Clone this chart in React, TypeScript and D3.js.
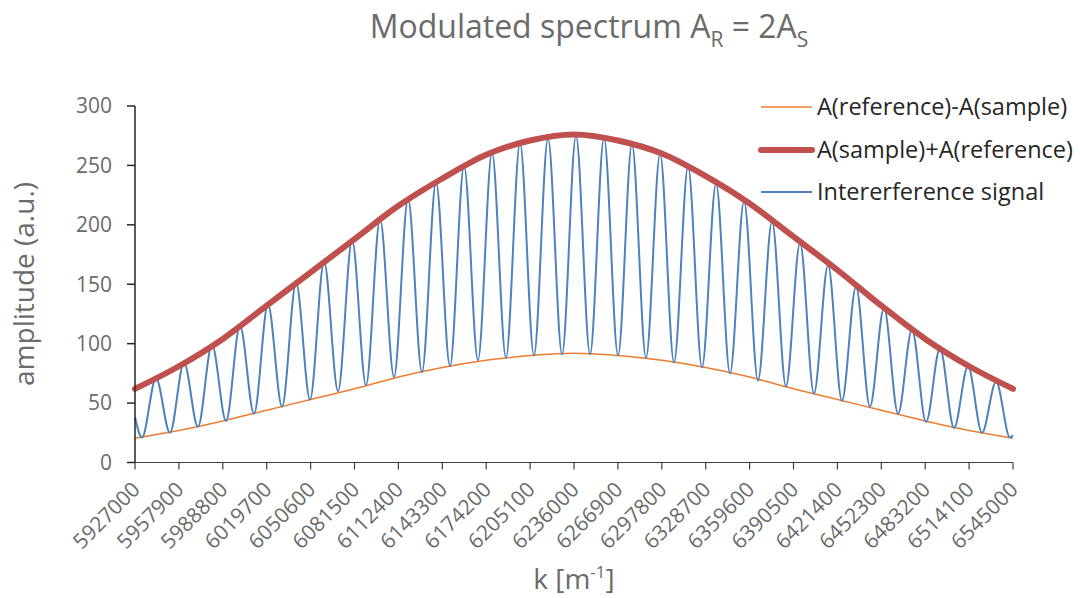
import React from 'react';
import * as d3 from 'd3';

// x axis category ticks (k in 1/m)
const kTicks = [
  5927000, 5957900, 5988800, 6019700, 6050600, 6081500, 6112400, 6143300, 6174200, 6205100, 6236000,
  6266900, 6297800, 6328700, 6359600, 6390500, 6421400, 6452300, 6483200, 6514100, 6545000,
];

// envelopes read at each tick
const sumEnvelope = [62, 81, 104, 132, 160, 188, 216, 239, 259, 271, 276, 271, 260, 241, 218, 190, 162, 132, 104, 81, 62];
const diffEnvelope = [20.5, 27, 35, 44, 53, 62, 72, 80, 86, 90, 92, 90, 86, 80, 72, 62, 53, 44, 35, 27, 20.5];

// interference signal: start, then alternating trough / peak, then end
const signalK = [
  5927000, 5931900, 5941800, 5951600, 5961500, 5971300, 5981200, 5991100, 6000900, 6010800, 6020600,
  6030500, 6040400, 6050200, 6060100, 6069900, 6079800, 6089600, 6099500, 6109300, 6119200, 6129000,
  6138900, 6148700, 6158600, 6168400, 6178300, 6188100, 6198000, 6207800, 6217700, 6227600, 6237400,
  6247300, 6257100, 6267000, 6276800, 6286700, 6296600, 6306400, 6316300, 6326100, 6336000, 6345800,
  6355700, 6365500, 6375400, 6385200, 6395100, 6404900, 6414800, 6424600, 6434500, 6444300, 6454200,
  6464100, 6473900, 6483800, 6493600, 6503500, 6513300, 6523200, 6533100, 6542900, 6545000,
];
const signalA = [
  38, 21, 71, 25, 84, 30, 99, 35, 115, 41, 133,
  47, 151, 53, 169, 60, 187, 65, 205, 72, 222, 76,
  236, 81, 250, 86, 261, 88, 269, 90, 273, 91, 275,
  91, 273, 90, 268, 88, 260, 84, 249, 80, 235, 75,
  220, 69, 203, 64, 185, 58, 166, 52, 148, 47, 130,
  41, 112, 34, 96, 29, 81, 25, 68, 21, 23,
];

const yTicks = [0, 50, 100, 150, 200, 250, 300];

const series = [
  { name: 'A(reference)-A(sample)', color: '#ED7D31', width: 1.5 },
  { name: 'A(sample)+A(reference)', color: '#C0504D', width: 6 },
  { name: 'Intererference signal', color: '#4F81BD', width: 2 },
];

const W = 1080;
const H = 598;
const left = 135;
const right = 1013;
const top = 106;
const bottom = 462.5;
const font = '"Open Sans", sans-serif';
const grey = '#6b6b6b';

export default function App() {
  const x = d3.scaleLinear().domain([kTicks[0], kTicks[kTicks.length - 1]]).range([left, right]);
  const y = d3.scaleLinear().domain([0, 300]).range([bottom, top]);

  const line = d3
    .line<[number, number]>()
    .x((d) => x(d[0]))
    .y((d) => y(d[1]))
    .curve(d3.curveMonotoneX);

  const diffPath = line(kTicks.map((k, i) => [k, diffEnvelope[i]]));
  const sumPath = line(kTicks.map((k, i) => [k, sumEnvelope[i]]));
  const signalPath = line(signalK.map((k, i) => [k, signalA[i]]));

  return (
    <svg width={W} height={H} style={{ position: 'absolute', left: 0, top: 0, background: '#fff' }} fontFamily={font}>
      {/* title */}
      <text x={589} y={38} textAnchor="middle" fontSize={32} fill={grey}>
        Modulated spectrum A<tspan fontSize={21} dy={9}>R</tspan>
        <tspan dy={-9}> = 2A</tspan>
        <tspan fontSize={21} dy={9}>S</tspan>
      </text>

      {/* series */}
      <path d={diffPath ?? ''} fill="none" stroke={series[0].color} strokeWidth={series[0].width} />
      <path d={signalPath ?? ''} fill="none" stroke={series[2].color} strokeWidth={series[2].width} />
      <path d={sumPath ?? ''} fill="none" stroke={series[1].color} strokeWidth={series[1].width} strokeLinecap="round" />

      {/* y axis */}
      <line x1={left} x2={left} y1={top} y2={bottom} stroke="#262626" strokeWidth={1.5} />
      {yTicks.map((t) => (
        <g key={t}>
          <line x1={left - 8} x2={left} y1={y(t)} y2={y(t)} stroke="#262626" strokeWidth={1.5} />
          <text x={left - 23} y={y(t)} dy="0.35em" textAnchor="end" fontSize={21} fill={grey}>
            {t}
          </text>
        </g>
      ))}

      {/* x axis */}
      <line x1={left} x2={right} y1={bottom} y2={bottom} stroke="#404040" strokeWidth={1.2} />
      {kTicks.map((k) => (
        <g key={k}>
          <line x1={x(k)} x2={x(k)} y1={bottom} y2={bottom + 7} stroke="#404040" strokeWidth={1.2} />
          <text
            transform={`translate(${x(k) + 1},${bottom + 23}) rotate(-45)`}
            dy="0.35em"
            textAnchor="end"
            fontSize={21}
            fill={grey}
          >
            {k}
          </text>
        </g>
      ))}

      {/* axis titles */}
      <text transform={`translate(34,284) rotate(-90)`} textAnchor="middle" fontSize={28} fill={grey}>
        amplitude (a.u.)
      </text>
      <text x={574} y={589} textAnchor="middle" fontSize={28} fill={grey}>
        k [m<tspan fontSize={17} dy={-11}>-1</tspan>
        <tspan dy={11}>]</tspan>
      </text>

      {/* legend */}
      {series.map((s, i) => {
        const ly = [107, 150, 192][i];
        return (
          <g key={s.name}>
            <line x1={761} x2={812} y1={ly} y2={ly} stroke={s.color} strokeWidth={s.width} strokeLinecap={i === 1 ? 'round' : 'butt'} />
            <text x={817} y={ly} dy="0.35em" fontSize={23.5} fill="#262626">
              {s.name}
            </text>
          </g>
        );
      })}
    </svg>
  );
}
